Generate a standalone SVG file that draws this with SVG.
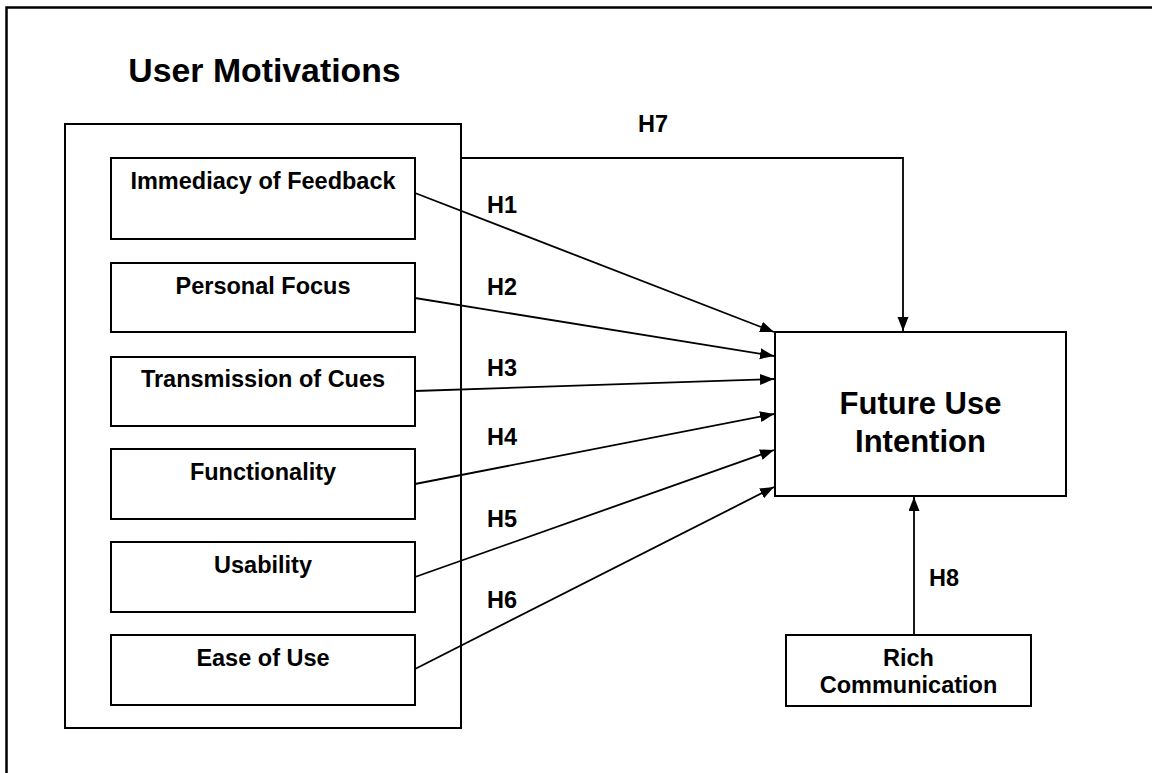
<svg xmlns="http://www.w3.org/2000/svg" width="1152" height="773" viewBox="0 0 1152 773">
<style>
.box{fill:#fff;stroke:#000;stroke-width:2}
.lbl{font-family:"Liberation Sans",Arial,sans-serif;font-weight:bold;font-size:23.5px;fill:#000}
.big{font-family:"Liberation Sans",Arial,sans-serif;font-weight:bold;font-size:31px;fill:#000}
.title{font-family:"Liberation Sans",Arial,sans-serif;font-weight:bold;font-size:33.8px;fill:#000}
.conn{fill:none;stroke:#000;stroke-width:1.8}
</style>
<defs>
<marker id="arr" markerUnits="userSpaceOnUse" markerWidth="15" markerHeight="12" refX="14" refY="5.5" orient="auto">
<path d="M0,0 L14,5.5 L0,11 z" fill="#000"/>
</marker>
</defs>
<rect width="1152" height="773" fill="#fff"/>
<path d="M6.5,773 V7.5 H1152" fill="none" stroke="#000" stroke-width="2.5"/>
<text class="title" x="264.5" y="82" text-anchor="middle">User Motivations</text>
<g id="user-motivations">
<rect class="box" x="65" y="124" width="396" height="604"/>
</g>
<g id="immediacy">
<rect class="box" x="111" y="158" width="304" height="81"/>
<text class="lbl" x="263" y="189" text-anchor="middle">Immediacy of Feedback</text>
</g>
<g id="personal-focus">
<rect class="box" x="111" y="263" width="304" height="69"/>
<text class="lbl" x="263" y="294" text-anchor="middle">Personal Focus</text>
</g>
<g id="transmission">
<rect class="box" x="111" y="357" width="304" height="69"/>
<text class="lbl" x="263" y="387" text-anchor="middle">Transmission of Cues</text>
</g>
<g id="functionality">
<rect class="box" x="111" y="449" width="304" height="70"/>
<text class="lbl" x="263" y="480" text-anchor="middle">Functionality</text>
</g>
<g id="usability">
<rect class="box" x="111" y="542" width="304" height="70"/>
<text class="lbl" x="263" y="573" text-anchor="middle">Usability</text>
</g>
<g id="ease-of-use">
<rect class="box" x="111" y="635" width="304" height="70"/>
<text class="lbl" x="263" y="666" text-anchor="middle">Ease of Use</text>
</g>
<g id="future-use-intention">
<rect class="box" x="775" y="332" width="291" height="164"/>
<text class="big" x="920.5" y="414" text-anchor="middle">Future Use</text>
<text class="big" x="920.5" y="452" text-anchor="middle">Intention</text>
</g>
<g id="rich-communication">
<rect class="box" x="786" y="635" width="245" height="71"/>
<text class="lbl" x="908.5" y="666" text-anchor="middle">Rich</text>
<text class="lbl" x="908.5" y="693" text-anchor="middle">Communication</text>
</g>
<g id="connectors">
<path class="conn" d="M415,193 L774,332" marker-end="url(#arr)"/>
<path class="conn" d="M415,298 L774,356" marker-end="url(#arr)"/>
<path class="conn" d="M415,391 L774,379" marker-end="url(#arr)"/>
<path class="conn" d="M415,484 L774,414" marker-end="url(#arr)"/>
<path class="conn" d="M415,577 L774,450" marker-end="url(#arr)"/>
<path class="conn" d="M415,669 L774,487" marker-end="url(#arr)"/>
<path class="conn" d="M461,158 H903 V331" marker-end="url(#arr)"/>
<path class="conn" d="M914,635 V497" marker-end="url(#arr)"/>
<text class="lbl" x="487" y="213">H1</text>
<text class="lbl" x="487" y="295">H2</text>
<text class="lbl" x="487" y="376">H3</text>
<text class="lbl" x="487" y="445">H4</text>
<text class="lbl" x="487" y="527">H5</text>
<text class="lbl" x="487" y="608">H6</text>
<text class="lbl" x="638" y="132">H7</text>
<text class="lbl" x="929" y="586">H8</text>
</g>
</svg>
